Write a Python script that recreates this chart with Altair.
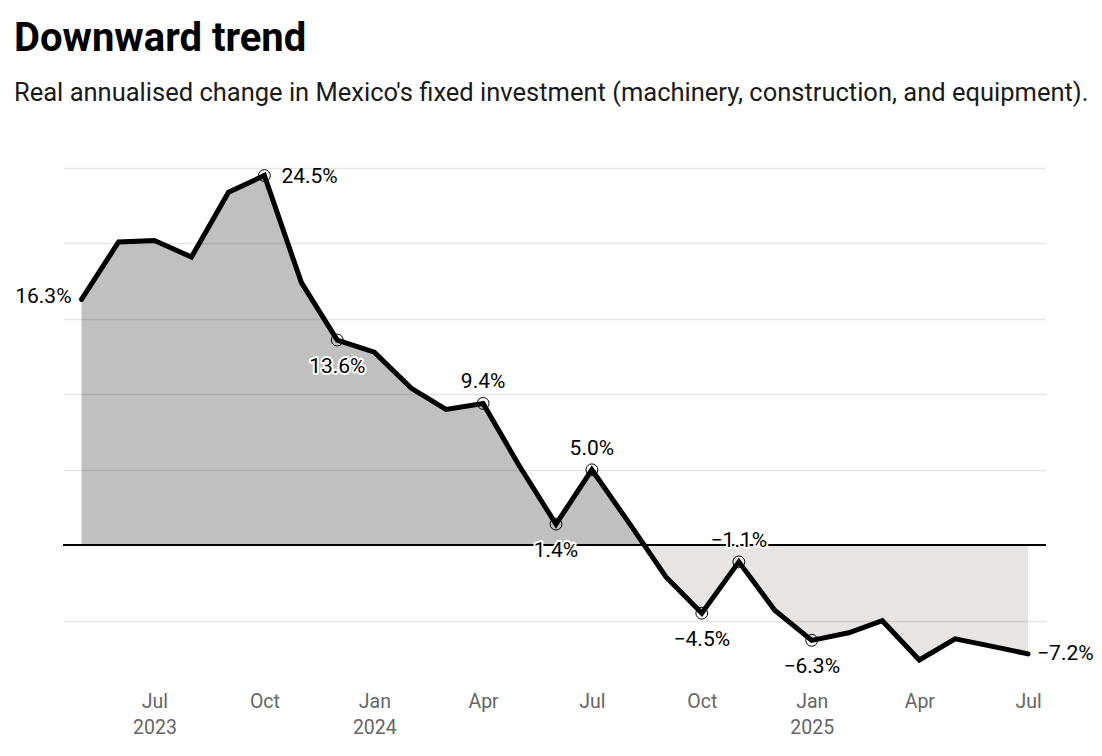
import altair as alt
import pandas as pd

# ---- data ----
months = [
    "2023-05-01", "2023-06-01", "2023-07-01", "2023-08-01", "2023-09-01",
    "2023-10-01", "2023-11-01", "2023-12-01", "2024-01-01", "2024-02-01",
    "2024-03-01", "2024-04-01", "2024-05-01", "2024-06-01", "2024-07-01",
    "2024-08-01", "2024-09-01", "2024-10-01", "2024-11-01", "2024-12-01",
    "2025-01-01", "2025-02-01", "2025-03-01", "2025-04-01", "2025-05-01",
    "2025-06-01", "2025-07-01",
]
values = [
    16.3, 20.1, 20.2, 19.1, 23.4,
    24.5, 17.4, 13.6, 12.8, 10.4,
    9.0, 9.4, 5.3, 1.4, 5.0,
    1.5, -2.1, -4.5, -1.1, -4.3,
    -6.3, -5.8, -5.0, -7.6, -6.2,
    -6.7, -7.2,
]
tick_months = [
    (2023, 7), (2023, 10), (2024, 1), (2024, 4), (2024, 7),
    (2024, 10), (2025, 1), (2025, 4), (2025, 7),
]
grid_values = [-5, 5, 10, 15, 20, 25]

# annotation placement groups
labels_right = ["2023-10-01"]
labels_below = ["2023-12-01", "2024-06-01", "2024-10-01", "2025-01-01"]
labels_above = ["2024-04-01", "2024-07-01", "2024-11-01"]
labels_start = ["2023-05-01"]
labels_end = ["2025-07-01"]
circled = labels_right + labels_below + labels_above

df = pd.DataFrame({"date": months, "value": values})

POS = "#c0c0c0"
NEG = "#e6e5e4"
vmax = max(max(values), 0)
vmin = min(min(values), 0)
zero_off = vmax / (vmax - vmin)

x_enc = alt.X(
    "date:T",
    scale=alt.Scale(
        type="utc",
        domain=[
            alt.DateTime(year=2023, month=4, date=15, hours=12, utc=True),
            alt.DateTime(year=2025, month=7, date=16, utc=True),
        ],
    ),
    axis=alt.Axis(
        values=[alt.DateTime(year=y, month=m, date=1, utc=True) for y, m in tick_months],
        labelExpr="[utcFormat(datum.value, '%b'), (utcmonth(datum.value) == 0 || (utcyear(datum.value) == 2023 && utcmonth(datum.value) == 6)) ? utcFormat(datum.value, '%Y') : '']",
        grid=False,
        ticks=False,
        tickSize=0,
        domain=False,
        labelFont="Roboto",
        labelFontSize=19.5,
        labelColor="#666666",
        labelPadding=26,
        labelLineHeight=26,
        labelFlush=False,
        labelOverlap=False,
        title=None,
    ),
)
y_enc = alt.Y(
    "value:Q",
    scale=alt.Scale(domain=[-8, 25], nice=False, zero=False),
    axis=alt.Axis(
        values=grid_values,
        grid=True,
        gridColor="#000000",
        gridOpacity=0.1,
        gridWidth=1.5,
        labels=False,
        ticks=False,
        domain=False,
        title=None,
        zindex=1,
    ),
)

base = alt.Chart(df)

area = base.mark_area(
    color=alt.Gradient(
        gradient="linear",
        x1=0, y1=0, x2=0, y2=1,
        stops=[
            alt.GradientStop(offset=0, color=POS),
            alt.GradientStop(offset=zero_off, color=POS),
            alt.GradientStop(offset=zero_off, color=NEG),
            alt.GradientStop(offset=1, color=NEG),
        ],
    )
).encode(x=x_enc, y=y_enc, y2=alt.datum(0))

zero = alt.Chart(df).mark_rule(color="#000000", strokeWidth=1.6).encode(y=alt.datum(0))

line = base.mark_line(color="#000000", strokeWidth=5, strokeCap="round", strokeJoin="miter").encode(
    x="date:T", y="value:Q"
)

circles = alt.Chart(df[df.date.isin(circled)]).mark_point(
    shape="circle", size=140, filled=False, stroke="#000000", strokeWidth=1, opacity=1
).encode(x="date:T", y="value:Q")


def text_layer(sel, align, dx, dy):
    sub = alt.Chart(df[df.date.isin(sel)]).transform_calculate(
        lbl="format(datum.value, '.1f') + '%'"
    )
    common = dict(align=align, baseline="middle", dx=dx, dy=dy, font="Roboto", fontSize=21)
    halo = sub.mark_text(
        fill="#ffffff", stroke="#ffffff", strokeWidth=4, strokeJoin="round", **common
    ).encode(x="date:T", y="value:Q", text="lbl:N")
    txt = sub.mark_text(color="#000000", **common).encode(x="date:T", y="value:Q", text="lbl:N")
    return [halo, txt]


texts = (
    text_layer(labels_right, "left", 17, 1)
    + text_layer(labels_below, "center", 0, 27)
    + text_layer(labels_above, "center", 0, -21)
    + text_layer(labels_start, "right", -10, -2)
    + text_layer(labels_end, "left", 9, 0)
)

chart = (
    alt.layer(area, zero, line, circles, *texts)
    .properties(
        width=983,
        height=498,
        padding={"left": 55, "top": 160, "right": 48, "bottom": 82},
        autosize=alt.AutoSizeParams(type="none"),
        background="#ffffff",
        title=alt.TitleParams(
            text="Downward trend",
            subtitle="Real annualised change in Mexico's fixed investment (machinery, construction, and equipment).",
            anchor="start",
            frame="group",
            dx=-49,
            offset=59,
            font="Roboto",
            fontSize=40,
            fontWeight="bold",
            color="#000000",
            subtitleFont="Roboto",
            subtitleFontSize=25.5,
            subtitleColor="#1a1a1a",
            subtitlePadding=22,
        ),
    )
    .configure_view(strokeWidth=0, stroke=None)
)

chart.save("out.html", embed_options={"renderer": "svg", "actions": False})
